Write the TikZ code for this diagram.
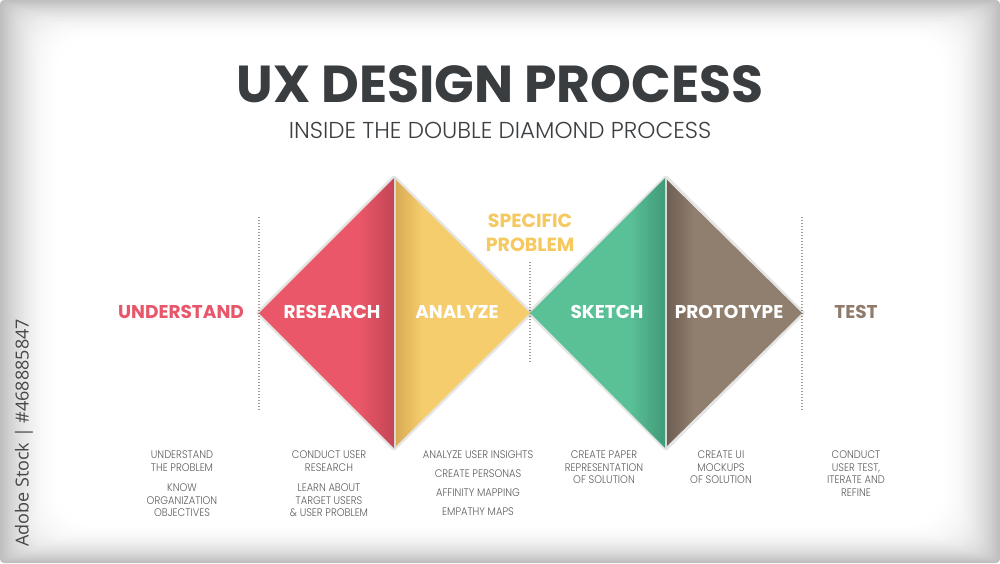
\documentclass[tikz,border=0pt]{standalone}
\usepackage{fontspec}
\setmainfont{Poppins}
\newfontfamily\plight{Poppins Light}
\newfontfamily\psmall{Poppins Light}[FakeStretch=0.9]
\newfontfamily\wmfont{Open Sans}
\definecolor{titlegray}{HTML}{3A3D40}
\definecolor{subgray}{HTML}{3C3F42}
\definecolor{smallgray}{HTML}{5E5E5E}
\definecolor{redA}{HTML}{E95768}
\definecolor{redB}{HTML}{C44556}
\definecolor{yelA}{HTML}{F5CD6D}
\definecolor{yelB}{HTML}{D9AC55}
\definecolor{grnA}{HTML}{5AC096}
\definecolor{grnB}{HTML}{409A78}
\definecolor{brnA}{HTML}{907E6E}
\definecolor{brnB}{HTML}{6F5F53}
\definecolor{redtext}{HTML}{E8566A}
\definecolor{brntext}{HTML}{8E7B6B}
\definecolor{yeltext}{HTML}{F5C860}
\definecolor{dotcol}{HTML}{A89A8C}
\definecolor{foldgray}{HTML}{D8D8D8}
\pgfdeclarehorizontalshading{redsh}{100bp}{color(0bp)=(redA); color(62bp)=(redA); color(75bp)=(redB); color(100bp)=(redB)}
\pgfdeclarehorizontalshading{yelsh}{100bp}{color(0bp)=(yelB); color(25bp)=(yelB); color(35bp)=(yelA); color(100bp)=(yelA)}
\pgfdeclarehorizontalshading{grnsh}{100bp}{color(0bp)=(grnA); color(62bp)=(grnA); color(75bp)=(grnB); color(100bp)=(grnB)}
\pgfdeclarehorizontalshading{brnsh}{100bp}{color(0bp)=(brnB); color(25bp)=(brnB); color(35bp)=(brnA); color(100bp)=(brnA)}
\tikzset{
  lbl/.style={inner sep=0pt, font=\bfseries\fontsize{18.5}{19}\selectfont},
  small/.style={inner sep=0pt, anchor=north, align=center, text=smallgray, font=\psmall\fontsize{11}{12.4}\selectfont},
  sep/.style={dotcol, line width=1.2pt, dash pattern=on 1.2pt off 1.8pt},
  shadowline/.style={black, opacity=0.10, line width=5pt, line join=round},
}
\begin{document}
\begin{tikzpicture}[x=1pt,y=-1pt]
\useasboundingbox (0,0) rectangle (1000,563);
% vignette background
\foreach \i in {0,...,30}{
  \pgfmathsetmacro{\g}{25*(1-\i/30)^2}
  \pgfmathsetmacro{\r}{4+\i*1.2}
  \fill[black!\g, rounded corners=\r pt] ({\i*2},{\i*1.3}) rectangle ({1000-\i*2},{563-\i*1.3});
}
% separators
\coordinate (s1t) at (259,217); \coordinate (s1b) at (259,410);
\coordinate (s2t) at (530,262); \coordinate (s2b) at (530,363);
\coordinate (s3t) at (802,217); \coordinate (s3b) at (802,410);
\draw[sep] (s1t) -- (s1b);
\draw[sep] (s2t) -- (s2b);
\draw[sep] (s3t) -- (s3b);
% diamond shadows
\draw[shadowline] (259,313) -- (394,178) -- (530,313) -- (394,448) -- cycle;
\draw[shadowline] (530,313) -- (666,178) -- (802,313) -- (666,448) -- cycle;
% first diamond
\shade[shading=redsh] (259,313) -- (394,178) -- (394,448) -- cycle;
\shade[shading=yelsh] (396,180) -- (530,313) -- (396,446) -- cycle;
\draw[foldgray, line width=2.2pt] (395,178) -- (395,448);
% second diamond
\shade[shading=grnsh] (530,313) -- (665,178) -- (665,448) -- cycle;
\shade[shading=brnsh] (667,180) -- (802,313) -- (667,446) -- cycle;
\draw[foldgray, line width=2.2pt] (666,178) -- (666,448);
% titles
\node[inner sep=0pt, text=titlegray, font=\bfseries\fontsize{52}{52}\selectfont] (title) at (500,84) {UX DESIGN PROCESS};
\node[inner sep=0pt, text=subgray, font=\plight\fontsize{23}{23}\selectfont] (subtitle) at (500,130) {INSIDE THE DOUBLE DIAMOND PROCESS};
% labels
\node[lbl, text=redtext] (understand) at (181,312) {UNDERSTAND};
\node[lbl, text=white] (research) at (332,312) {RESEARCH};
\node[lbl, text=white] (analyze) at (457,312) {ANALYZE};
\node[lbl, text=white] (sketch) at (607,312) {SKETCH};
\node[lbl, text=white] (prototype) at (729,312) {PROTOTYPE};
\node[lbl, text=brntext] (test) at (856,312) {TEST};
\node[inner sep=0pt, align=center, text=yeltext, font=\bfseries\fontsize{19}{23.5}\selectfont] (specific) at (530,233) {SPECIFIC\\PROBLEM};
% small texts
\node[small] (c1) at (182,451) {UNDERSTAND\\THE PROBLEM\\[8pt]KNOW\\ORGANIZATION\\OBJECTIVES};
\node[small] (c2) at (329,451) {CONDUCT USER\\RESEARCH\\[8pt]LEARN ABOUT\\TARGET USERS\\\&~USER PROBLEM};
\node[small, font=\psmall\fontsize{11}{19}\selectfont] (c3) at (478,451) {ANALYZE USER INSIGHTS\\CREATE PERSONAS\\AFFINITY MAPPING\\EMPATHY MAPS};
\node[small] (c4) at (604,451) {CREATE PAPER\\REPRESENTATION\\OF SOLUTION};
\node[small] (c5) at (721,451) {CREATE UI\\MOCKUPS\\OF SOLUTION};
\node[small] (c6) at (856,451) {CONDUCT\\USER TEST,\\ITERATE AND\\REFINE};
% vertical mark
\node[inner sep=0pt, rotate=90, text=black!72, font=\wmfont\fontsize{18}{18}\selectfont] (wm) at (24,433) {Adobe Stock | \#468885847};
\end{tikzpicture}
\end{document}
